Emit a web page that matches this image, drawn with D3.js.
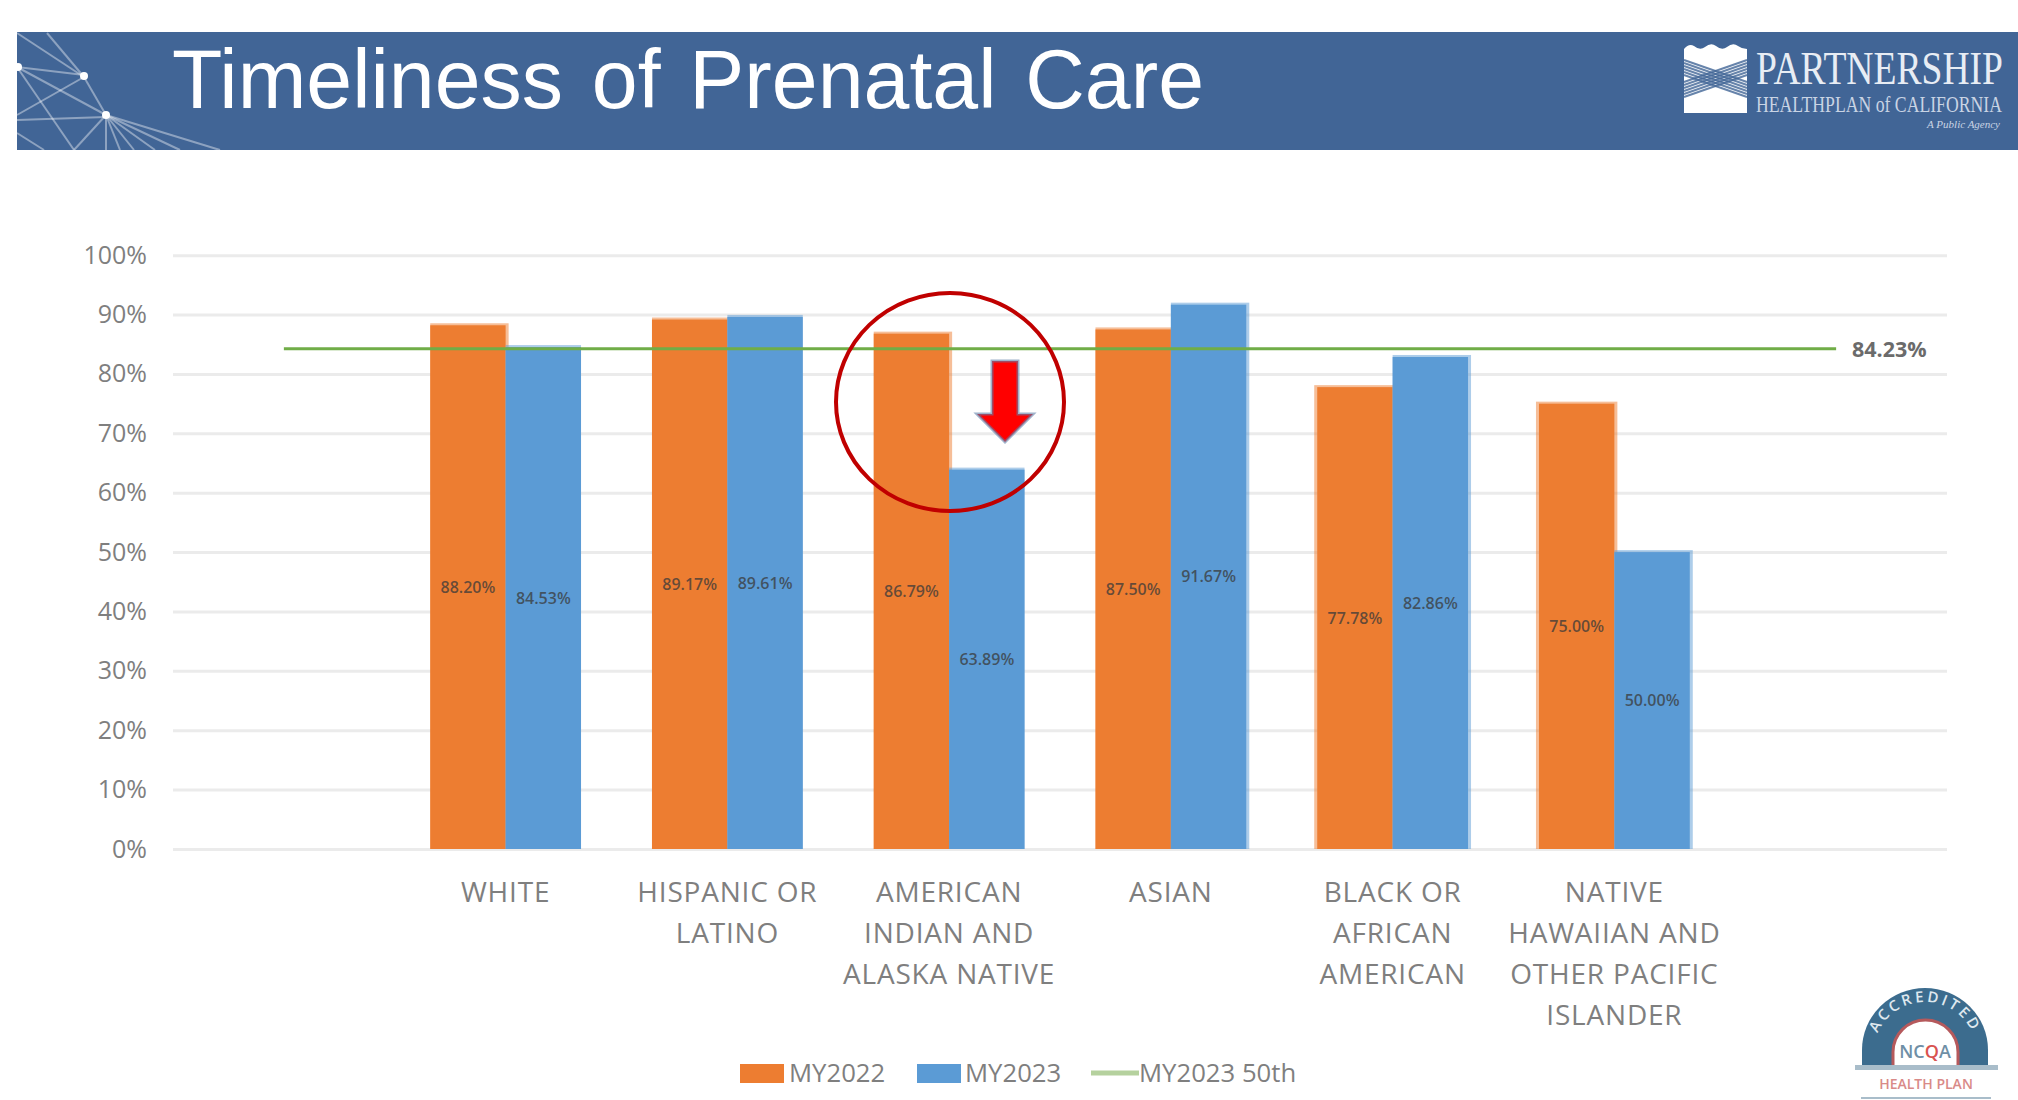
<!DOCTYPE html>
<html>
<head>
<meta charset="utf-8">
<title>Timeliness of Prenatal Care</title>
<script src="https://cdn.jsdelivr.net/npm/d3@7"></script>
<style>
	html, body { margin: 0; padding: 0; background: #fff; }
	svg { display: block; }
	text { font-family: "Open Sans", sans-serif; }
</style>
</head>
<body>
<svg id="chart" width="2018" height="1100"></svg>
<script>
// the two blank categories keep the empty room at both ends of the axis
const categories = ["", "WHITE", "HISPANIC OR LATINO", "AMERICAN INDIAN AND ALASKA NATIVE", "ASIAN", "BLACK OR AFRICAN AMERICAN", "NATIVE HAWAIIAN AND OTHER PACIFIC ISLANDER", " "];
const categoryLines = [
	[],
	["WHITE"],
	["HISPANIC OR", "LATINO"],
	["AMERICAN", "INDIAN AND", "ALASKA NATIVE"],
	["ASIAN"],
	["BLACK OR", "AFRICAN", "AMERICAN"],
	["NATIVE", "HAWAIIAN AND", "OTHER PACIFIC", "ISLANDER"],
	[],
];
const my2022 = [null, 88.2, 89.17, 86.79, 87.5, 77.78, 75.0, null];
const my2023 = [null, 84.53, 89.61, 63.89, 91.67, 82.86, 50.0, null];
const benchmark = [84.23, 84.23, 84.23, 84.23, 84.23, 84.23, 84.23, 84.23];
const seriesNames = ["MY2022", "MY2023", "MY2023 50th"];
const yTicks = [0, 10, 20, 30, 40, 50, 60, 70, 80, 90, 100];

const colors = { orange: "#ed7d31", blue: "#5b9bd5", green: "#70ad47", grid: "#ebebeb", text: "#7f7f7f", banner: "#416596" };

const svg = d3.select("#chart");

const x = d3.scaleBand().domain(categories).range([173, 1947]).paddingInner(0.32).paddingOuter(0.16);
const xInner = d3.scaleBand().domain(seriesNames.slice(0, 2)).range([0, x.bandwidth()]);
const y = d3.scaleLinear().domain([0, 100]).range([849, 255.2]);

drawBanner();
drawYAxis();
drawXAxis();
drawBars(my2022, seriesNames[0], colors.orange, (i) => (i >= 5 ? 3 : 0), () => 3);
drawBars(my2023, seriesNames[1], colors.blue, () => 0, (i) => (i >= 4 ? 3 : 0));
drawBenchmark();
drawCallout();
drawLegend();
drawSeal();

// squeeze a text to a width with a transform, so its box stays true
function fitText(sel, left, baseline, width) {
	let natural = sel.node().getComputedTextLength();
	sel.attr("transform", `translate(${left},${baseline}) scale(${width / natural},1)`);
}

function drawBanner() {
	let g = svg.append("g");
	g.append("rect").attr("x", 17).attr("y", 32).attr("width", 2001).attr("height", 118).attr("fill", colors.banner);

	// network pattern in the left corner
	let lines = [
		[47, 33, 84, 77], [84, 77, 106, 115], [17, 33, 84, 77], [17, 67, 84, 75],
		[17, 67, 106, 115], [84, 77, 17, 115], [17, 67, 74, 150], [17, 120, 106, 117],
		[106, 115, 74, 150], [106, 115, 106, 150], [106, 115, 120, 150], [106, 115, 134, 150],
		[106, 115, 155, 150], [106, 115, 180, 150], [106, 115, 220, 150], [17, 133, 44, 150],
	];
	g.selectAll("line.net").data(lines).join("line").attr("class", "net")
		.attr("x1", (d) => d[0]).attr("y1", (d) => d[1]).attr("x2", (d) => d[2]).attr("y2", (d) => d[3])
		.attr("stroke", "#fff").attr("stroke-opacity", 0.4).attr("stroke-width", 2);
	g.selectAll("circle.node").data([[84, 76], [106, 115], [18, 67]]).join("circle").attr("class", "node")
		.attr("cx", (d) => d[0]).attr("cy", (d) => d[1]).attr("r", 4).attr("fill", "#fff");

	g.append("text").attr("x", 172).attr("y", 108)
		.attr("textLength", 1032).attr("lengthAdjust", "spacingAndGlyphs")
		.style("font-family", "Liberation Sans").style("font-size", "84px").attr("fill", "#fff")
		.style("word-spacing", "6px")
		.text("Timeliness of Prenatal Care");

	// partnership logo
	g.append("path").attr("fill", "#fff")
		.attr("d", "M1684,113V49q5,-6 10,-3q6,5 11,1q6,-5 11,-1q6,5 11,1q6,-5 11,-1q4,3 9,3V113Z");
	let weave = [0, 1, 2, 3, 4, 5];
	g.selectAll("line.w1").data(weave).join("line").attr("class", "w1")
		.attr("x1", 1684).attr("y1", (d) => 60 + d * 3).attr("x2", 1747).attr("y2", (d) => 82 + d * 3)
		.attr("stroke", colors.banner).attr("stroke-width", 2).attr("stroke-opacity", 0.8);
	g.selectAll("line.w2").data(weave).join("line").attr("class", "w2")
		.attr("x1", 1747).attr("y1", (d) => 60 + d * 3).attr("x2", 1684).attr("y2", (d) => 82 + d * 3)
		.attr("stroke", colors.banner).attr("stroke-width", 2).attr("stroke-opacity", 0.8);

	g.append("text").style("font-family", "Liberation Serif").style("font-size", "46px").attr("fill", "#e8edf4")
		.text("PARTNERSHIP").call(fitText, 1756, 84, 247);
	g.append("text").style("font-family", "Liberation Serif").style("font-size", "24px").attr("fill", "#c9d4e4")
		.text("HEALTHPLAN of CALIFORNIA").call(fitText, 1756, 112, 246);
	g.append("text").attr("x", 2000).attr("y", 128).attr("text-anchor", "end")
		.style("font-family", "Liberation Serif").style("font-style", "italic").style("font-size", "11px").attr("fill", "#c9d4e4").text("A Public Agency");
}

function drawYAxis() {
	let axis = d3.axisLeft(y).tickValues(yTicks).tickFormat((d) => d + "%").tickSize(-1774).tickPadding(26);
	let g = svg.append("g").attr("class", "axis-y").attr("transform", "translate(173,0)").call(axis);
	g.select(".domain").remove();
	g.selectAll("line").attr("stroke", colors.grid).attr("stroke-width", 3);
	g.selectAll("text").attr("fill", colors.text).style("font-size", "25px");
}

function drawXAxis() {
	let axis = d3.axisBottom(x).tickSize(0).tickFormat("");
	let g = svg.append("g").attr("class", "axis-x").attr("transform", "translate(0,849)").call(axis);
	g.select(".domain").remove();
	g.selectAll(".tick text").each(function (d, i) {
		d3.select(this)
			.attr("y", 0)
			.attr("dy", 0)
			.selectAll("tspan")
			.data(categoryLines[i])
			.join("tspan")
			.attr("x", 0)
			.attr("y", (l, j) => 53 + j * 41)
			.text((l) => l);
	});
	g.selectAll("text").attr("fill", colors.text).style("font-size", "28px").style("letter-spacing", "0.8px");
}

// left and right say how far the pale edge of a bar sticks out, as in the blurred original
function drawBars(values, name, color, left, right) {
	let rows = categories.map((c, i) => ({ category: c, value: values[i], index: i })).filter((d) => d.value !== null);
	let g = svg.append("g").attr("class", "bars");

	g.selectAll("rect.edge")
		.data(rows)
		.join("rect")
		.attr("class", "edge")
		.attr("x", (d) => x(d.category) + xInner(name) - left(d.index))
		.attr("y", (d) => y(d.value) - 2)
		.attr("width", (d) => xInner.bandwidth() + left(d.index) + right(d.index))
		.attr("height", (d) => y(0) - y(d.value) + 2)
		.attr("fill", color)
		.attr("fill-opacity", 0.5);

	g.selectAll("rect.bar")
		.data(rows)
		.join("rect")
		.attr("class", "bar")
		.attr("x", (d) => x(d.category) + xInner(name))
		.attr("y", (d) => y(d.value))
		.attr("width", xInner.bandwidth())
		.attr("height", (d) => y(0) - y(d.value))
		.attr("fill", color);

	g.selectAll("text")
		.data(rows)
		.join("text")
		.attr("x", (d) => x(d.category) + xInner(name) + xInner.bandwidth() / 2)
		.attr("y", (d) => y(d.value / 2))
		.attr("dy", "0.35em")
		.attr("text-anchor", "middle")
		.attr("fill", "#3a3a3a")
		.attr("fill-opacity", 0.75)
		.style("font-size", "16px")
		.style("font-weight", 600)
		.text((d) => d.value.toFixed(2) + "%");
}

function drawBenchmark() {
	let line = d3.line().x((d, i) => x(categories[i]) + x.bandwidth() / 2).y((d) => y(d));
	svg.append("path").datum(benchmark).attr("d", line).attr("fill", "none").attr("stroke", colors.green).attr("stroke-width", 3);
	svg.append("text").attr("x", 1852).attr("y", y(84.23)).attr("dy", "0.38em")
		.attr("fill", "#6b6b6b").style("font-size", "21.5px").style("font-weight", 700)
		.text(benchmark[7].toFixed(2) + "%");
}

function drawCallout() {
	svg.append("ellipse").attr("cx", 950).attr("cy", 402).attr("rx", 114).attr("ry", 109)
		.attr("fill", "none").attr("stroke", "#c00000").attr("stroke-width", 4);
	svg.append("path")
		.attr("d", "M992,361H1018V414H1033L1005,442L977,414H992Z")
		.attr("fill", "#ff0000").attr("stroke", "#5f7fa8").attr("stroke-opacity", 0.6).attr("stroke-width", 3);
}

function drawLegend() {
	let g = svg.append("g").attr("class", "legend");
	g.append("rect").attr("x", 740).attr("y", 1064).attr("width", 44).attr("height", 19).attr("fill", colors.orange);
	g.append("rect").attr("x", 917).attr("y", 1064).attr("width", 44).attr("height", 19).attr("fill", colors.blue);
	g.append("line").attr("x1", 1091).attr("x2", 1139).attr("y1", 1073).attr("y2", 1073).attr("stroke", "#b5d19e").attr("stroke-width", 5);
	g.selectAll("text")
		.data(seriesNames)
		.join("text")
		.attr("x", (d, i) => [789, 965, 1139][i])
		.attr("y", 1082)
		.attr("fill", colors.text)
		.style("font-size", "25.7px")
		.text((d) => d);
}

function drawSeal() {
	let g = svg.append("g").attr("class", "seal");
	g.append("path").attr("fill", "#3c6c8e")
		.attr("d", "M1862,1067V1050A63,62 0 0 1 1988,1050V1067Z");
	g.append("path").attr("fill", "#fff").attr("stroke", "#b5595c").attr("stroke-width", 3)
		.attr("d", "M1893,1067V1052A32.5,32 0 0 1 1958,1052V1067Z");
	g.append("rect").attr("x", 1855).attr("y", 1065).attr("width", 143).attr("height", 5).attr("fill", "#a9bdca");
	g.append("rect").attr("x", 1861).attr("y", 1097).attr("width", 130).attr("height", 2).attr("fill", "#a9bdca");
	g.append("path").attr("id", "sealArc").attr("fill", "none").attr("d", "M1874,1052A51,50 0 0 1 1976,1052");
	g.append("text").attr("fill", "#dfe8ee").style("font-size", "15px").style("font-weight", 600).style("letter-spacing", "3px")
		.append("textPath").attr("href", "#sealArc").attr("startOffset", "50%").attr("text-anchor", "middle").text("ACCREDITED");
	let ncqa = g.append("text").attr("x", 1925).attr("y", 1058).attr("text-anchor", "middle").attr("fill", "#6f8fa6")
		.style("font-size", "18px").style("font-weight", 600);
	ncqa.append("tspan").text("NC");
	ncqa.append("tspan").attr("fill", "#d9534f").text("Q");
	ncqa.append("tspan").text("A");
	g.append("text").attr("x", 1926).attr("y", 1089).attr("text-anchor", "middle").attr("fill", "#d98a88")
		.style("font-size", "14px").style("font-weight", 600).text("HEALTH PLAN");
}
</script>
</body>
</html>
